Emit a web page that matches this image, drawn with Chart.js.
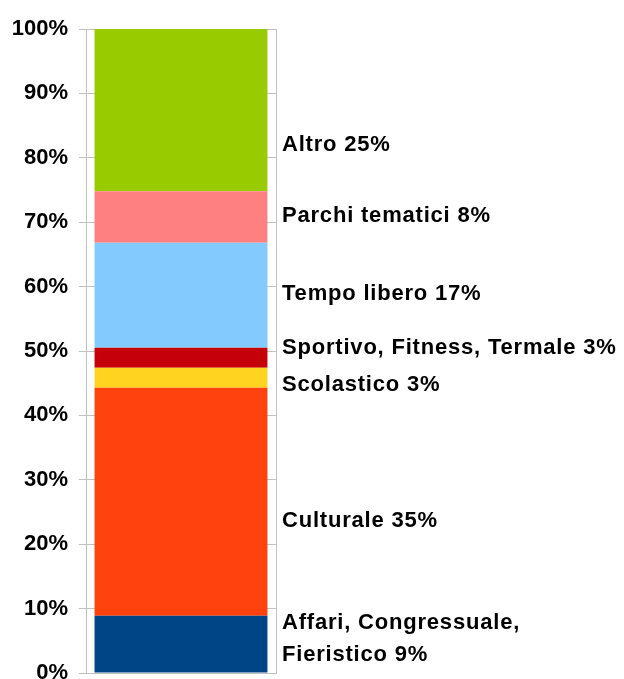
<!DOCTYPE html>
<html>
<head>
<meta charset="utf-8">
<script src="https://cdn.jsdelivr.net/npm/chart.js@4"></script>
<style>
  html, body { margin: 0; padding: 0; background: #fff; overflow: hidden; }
  #wrap { width: 624px; height: 679px; position: relative; overflow: hidden; }
  #c { display: block; }
</style>
</head>
<body>
<div id="wrap"><canvas id="c" width="624" height="700"></canvas></div>
<script>
// Data (percent shares, bottom to top)
const categories = ["Affari, Congressuale, Fieristico", "Culturale", "Scolastico", "Sportivo, Fitness, Termale", "Tempo libero", "Parchi tematici", "Altro"];
const values = [8.9, 35.4, 3.1, 3.1, 16.3, 8.0, 25.2];
const labelLines = [["Affari, Congressuale,", "Fieristico 9%"], ["Culturale 35%"], ["Scolastico 3%"], ["Sportivo, Fitness, Termale 3%"], ["Tempo libero 17%"], ["Parchi tematici 8%"], ["Altro 25%"]];
const labelAt = [5.3, 23.6, 44.7, 50.5, 58.85, 71.0, 82.0]; // label anchor, in axis units (%)
const colors = ["#004586", "#ff420e", "#ffd320", "#c5000b", "#83caff", "#ff8080", "#99cc00"];
const yTicks = [0, 10, 20, 30, 40, 50, 60, 70, 80, 90, 100];

const FONT = "'Liberation Sans', Arial, sans-serif";

const labelPlugin = {
  id: 'sideLabels',
  afterDatasetsDraw(chart) {
    const ctx = chart.ctx;
    const y = chart.scales.y;
    const x0 = chart.chartArea.right + 6;
    ctx.save();
    ctx.font = "bold 22px " + FONT;
    ctx.letterSpacing = "0.8px";
    ctx.fillStyle = "#000";
    ctx.textAlign = "left";
    ctx.textBaseline = "middle";
    labelLines.forEach((lines, i) => {
      const cy = y.getPixelForValue(labelAt[i]);
      const lh = 32;
      const start = cy - (lines.length - 1) * lh / 2;
      lines.forEach((t, k) => ctx.fillText(t, x0, start + k * lh));
    });
    ctx.restore();
  }
};

new Chart(document.getElementById('c'), {
  type: 'bar',
  data: {
    labels: [""],
    datasets: categories.map((c, i) => ({
      label: c,
      data: [values[i]],
      backgroundColor: colors[i],
      borderWidth: 0,
      barPercentage: 0.91,
      categoryPercentage: 1.0
    }))
  },
  options: {
    responsive: false,
    animation: false,
    events: [],
    layout: { padding: { top: 29, right: 348, bottom: 27, left: 12 } },
    plugins: { legend: { display: false }, tooltip: { enabled: false } },
    scales: {
      x: {
        stacked: true,
        offset: true,
        grid: { display: true, offset: true, color: "#c0c0c0", lineWidth: 1, drawTicks: false },
        border: { display: true, color: "#c0c0c0" },
        ticks: { display: false },
        afterFit(s) { s.height = 0; }
      },
      y: {
        stacked: true,
        min: 0, max: 100,
        afterBuildTicks(s) { s.ticks = yTicks.map(v => ({ value: v })); },
        grid: { color: "#c0c0c0", lineWidth: 1, tickLength: 7 },
        border: { display: true, color: "#c0c0c0" },
        ticks: {
          padding: 11,
          color: "#000",
          font: { family: FONT, size: 22, weight: "bold" },
          callback: v => v + "%"
        },
        afterFit(s) { s.width = 74; }
      }
    }
  },
  plugins: [labelPlugin]
});
</script>
</body>
</html>
